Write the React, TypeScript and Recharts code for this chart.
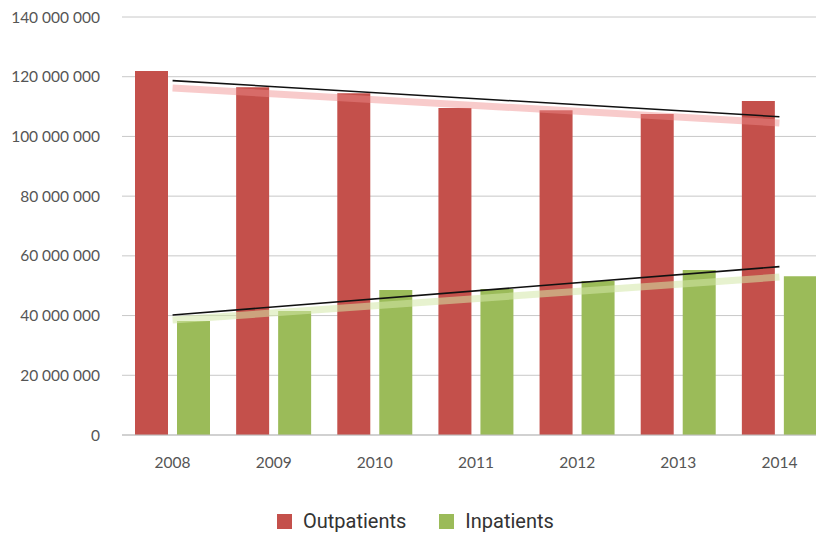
import { ComposedChart, Bar, Line, XAxis, YAxis, CartesianGrid } from "recharts";

const years = ["2008", "2009", "2010", "2011", "2012", "2013", "2014"];
const outpatients = [121900000, 116500000, 114500000, 109500000, 108800000, 107500000, 111900000];
const inpatients = [38200000, 41500000, 48600000, 48900000, 51600000, 55300000, 53200000];

const outTrendBlack = [118700000, null, null, null, null, null, 106600000];
const outTrendSoft = [116200000, null, null, null, null, null, 104500000];
const inTrendBlack = [40200000, null, null, null, null, null, 56400000];
const inTrendSoft = [38500000, null, null, null, null, null, 52900000];

const yTicks = [0, 20000000, 40000000, 60000000, 80000000, 100000000, 120000000, 140000000];

const RED = "#c4504b";
const GREEN = "#9bbb59";

const data = years.map((year, i) => ({
  year,
  out: outpatients[i],
  inp: inpatients[i],
  outBlack: outTrendBlack[i],
  outSoft: outTrendSoft[i],
  inBlack: inTrendBlack[i],
  inSoft: inTrendSoft[i],
}));

const fmt = (v: number) => String(v).replace(/\B(?=(\d{3})+(?!\d))/g, " ");

const tickStyle = { fontFamily: "Lato, sans-serif", fontSize: 15.5, fill: "#555" };

function LegendItem({ color, label }: { color: string; label: string }) {
  return (
    <div style={{ display: "flex", alignItems: "center", marginRight: 33 }}>
      <div style={{ width: 15, height: 15, background: color, marginRight: 11 }} />
      <span>{label}</span>
    </div>
  );
}

export default function App() {
  return (
    <div style={{ position: "relative", width: 824, height: 537, overflow: "hidden", margin: "-8px -8px 0 -8px", background: "#fff" }}>
      <ComposedChart
        width={830}
        height={480}
        data={data}
        margin={{ top: 17, right: 0, bottom: 0, left: 0 }}
        barCategoryGap={13}
        barGap={9}
      >
        <CartesianGrid vertical={false} stroke="#c8c8c8" />
        <XAxis
          dataKey="year"
          axisLine={{ stroke: "#bfbfbf" }}
          tickLine={false}
          tickSize={0}
          tickMargin={22}
          height={45}
          tick={tickStyle}
        />
        <YAxis
          domain={[0, 140000000]}
          ticks={yTicks}
          tickFormatter={fmt}
          axisLine={false}
          tickLine={false}
          tickSize={0}
          tickMargin={22}
          width={122}
          tick={tickStyle}
          interval={0}
        />
        <Bar dataKey="out" fill={RED} isAnimationActive={false} />
        <Bar dataKey="inp" fill={GREEN} isAnimationActive={false} />
        <Line dataKey="outSoft" stroke="#f08c8c" strokeOpacity={0.45} strokeWidth={7} dot={false} connectNulls isAnimationActive={false} />
        <Line dataKey="inSoft" stroke="#d3e7a8" strokeOpacity={0.55} strokeWidth={7} dot={false} connectNulls isAnimationActive={false} />
        <Line dataKey="outBlack" stroke="#111" strokeWidth={1.6} dot={false} connectNulls isAnimationActive={false} />
        <Line dataKey="inBlack" stroke="#111" strokeWidth={1.6} dot={false} connectNulls isAnimationActive={false} />
      </ComposedChart>
      <div
        style={{
          position: "absolute",
          left: 277,
          top: 509,
          display: "flex",
          fontFamily: "Roboto, sans-serif",
          fontSize: 20,
          color: "#333",
        }}
      >
        <LegendItem color={RED} label="Outpatients" />
        <LegendItem color={GREEN} label="Inpatients" />
      </div>
    </div>
  );
}
